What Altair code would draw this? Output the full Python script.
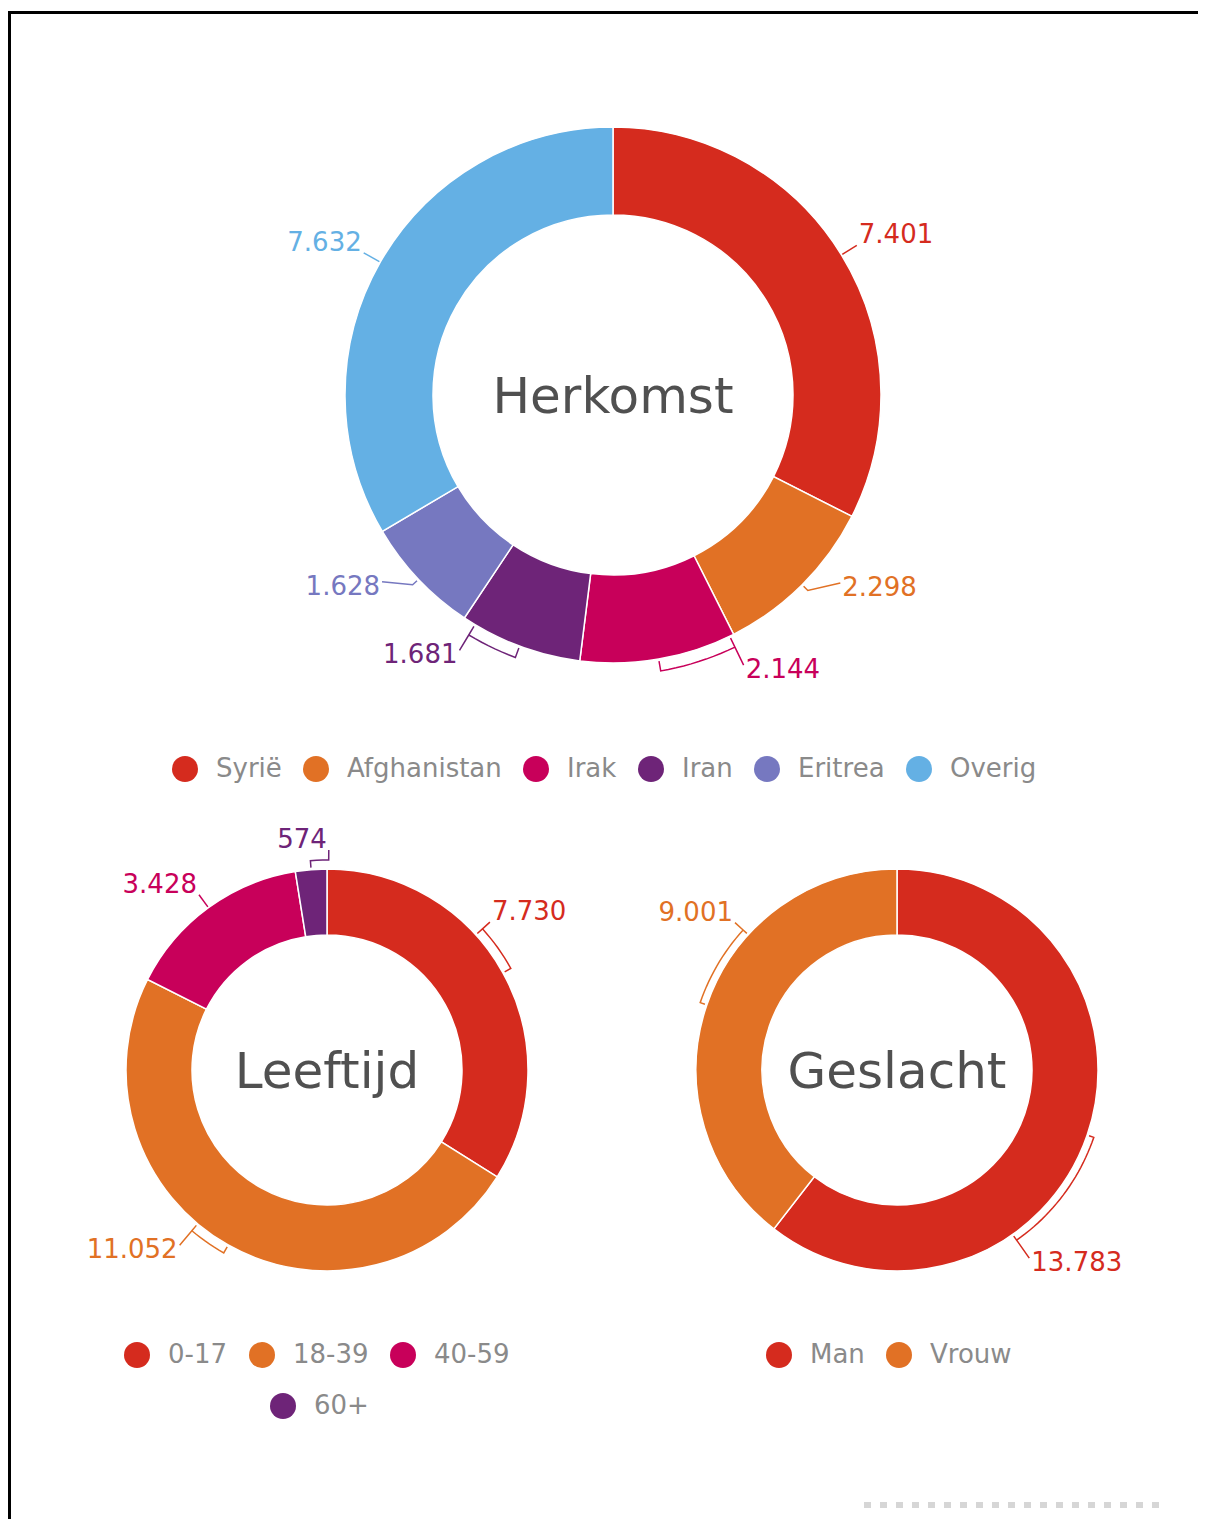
import math
import altair as alt
import pandas as pd

# ---------------- data ----------------
herkomst_cats = ["Syrië", "Afghanistan", "Irak", "Iran", "Eritrea", "Overig"]
herkomst_vals = [7401, 2298, 2144, 1681, 1628, 7632]
herkomst_labels = ["7.401", "2.298", "2.144", "1.681", "1.628", "7.632"]

leeftijd_cats = ["0-17", "18-39", "40-59", "60+"]
leeftijd_vals = [7730, 11052, 3428, 574]
leeftijd_labels = ["7.730", "11.052", "3.428", "574"]

geslacht_cats = ["Man", "Vrouw"]
geslacht_vals = [13783, 9001]
geslacht_labels = ["13.783", "9.001"]

RED = "#d52b1e"
ORANGE = "#e17125"
MAGENTA = "#c8005a"
PURPLE = "#6e2478"
LILAC = "#7678c0"
BLUE = "#64b0e4"

herkomst_colors = [RED, ORANGE, MAGENTA, PURPLE, LILAC, BLUE]
leeftijd_colors = [RED, ORANGE, MAGENTA, PURPLE]
geslacht_colors = [RED, ORANGE]

# ---------------- layout ----------------
W, H = 1190, 1511
FONT = "DejaVu Sans"
LABEL_SIZE = 26
LEGEND_GRAY = "#8a8a8a"
CENTER_GRAY = "#505050"

donuts = [
    dict(name="Herkomst", cats=herkomst_cats, vals=herkomst_vals, labels=herkomst_labels,
         colors=herkomst_colors, cx=605, cy=387, r_out=268, r_in=180, bracket=12,
         shift=[0, -5.5, -16, 10.6, 4.5, 0], gap=[18, 27, 32, 30, 29, 19],
         style=["plain", "tick", "bracket", "bracket", "tick", "plain"]),
    dict(name="Leeftijd", cats=leeftijd_cats, vals=leeftijd_vals, labels=leeftijd_labels,
         colors=leeftijd_colors, cx=319, cy=1062, r_out=201, r_in=135, bracket=9,
         shift=[-13.3, 10.6, 0, 5], gap=[19, 28, 16, 19],
         style=["bracket", "bracket", "plain", "bracket"]),
    dict(name="Geslacht", cats=geslacht_cats, vals=geslacht_vals, labels=geslacht_labels,
         colors=geslacht_colors, cx=889, cy=1062, r_out=201, r_in=135, bracket=7,
         shift=[36, 23.4], gap=[29, 18],
         style=["bracket", "bracket"]),
]


def polar(cx, cy, deg, r):
    a = math.radians(deg)
    return cx + r * math.sin(a), cy - r * math.cos(a)


legend_common = dict(
    orient="none", direction="horizontal", title=None, symbolType="circle",
    symbolSize=676, symbolStrokeWidth=0, labelFontSize=26, labelFont=FONT,
    labelColor=LEGEND_GRAY, labelOffset=18, columnPadding=21, padding=0,
    labelLimit=400, labelBaseline="middle",
)

layers = []

# border (screenshot frame)
frame = pd.DataFrame({"k": [0]})
layers.append(alt.Chart(frame).mark_rule(color="black", strokeWidth=3).encode(
    x=alt.value(1.5), y=alt.value(3), y2=alt.value(H)))
layers.append(alt.Chart(frame).mark_rule(color="black", strokeWidth=3).encode(
    x=alt.value(0), x2=alt.value(W), y=alt.value(4.5)))

# hidden layer providing the separate centered "60+" legend row
sixty = pd.DataFrame({"cat": ["60+"]})
layers.append(alt.Chart(sixty).mark_point(filled=True, opacity=0).encode(
    x=alt.value(0), y=alt.value(0),
    fill=alt.Fill("cat:N", scale=alt.Scale(domain=["60+"], range=[PURPLE]),
                  legend=alt.Legend(legendX=262, legendY=1385, symbolOpacity=1, **legend_common)),
))

legend_pos = {
    "Herkomst": dict(legendX=164, legendY=748),
    "Leeftijd": dict(legendX=116, legendY=1334, values=["0-17", "18-39", "40-59"]),
    "Geslacht": dict(legendX=758, legendY=1334),
}

line_rows = []
text_rows = []

for d in donuts:
    n = len(d["cats"])
    df = pd.DataFrame({"cat": d["cats"], "value": d["vals"], "idx": list(range(n))})
    layers.append(
        alt.Chart(df).mark_arc(outerRadius=d["r_out"], innerRadius=d["r_in"],
                               stroke="white", strokeWidth=1.5).encode(
            theta=alt.Theta("value:Q", stack=True),
            order=alt.Order("idx:Q"),
            color=alt.Color("cat:N", scale=alt.Scale(domain=d["cats"], range=d["colors"]),
                            sort=d["cats"],
                            legend=alt.Legend(**legend_pos[d["name"]], **legend_common)),
            x=alt.value(d["cx"]), y=alt.value(d["cy"]),
        )
    )
    # center title
    layers.append(
        alt.Chart(pd.DataFrame({"t": [d["name"]]})).mark_text(
            font=FONT, fontSize=50, color=CENTER_GRAY, baseline="middle", align="center", dy=3
        ).encode(text="t:N", x=alt.value(d["cx"]), y=alt.value(d["cy"]))
    )

    total = sum(d["vals"])
    start = 0
    for i, v in enumerate(d["vals"]):
        mid = (start + v / 2) / total * 360
        start += v
        sh = d["shift"][i]
        lab = mid + sh
        ro = d["r_out"]
        b = d["bracket"]
        style = d["style"][i]
        if style == "bracket":
            pts = [polar(d["cx"], d["cy"], mid, ro + 2), polar(d["cx"], d["cy"], mid, ro + b)]
            steps = max(2, int(abs(sh) / 1.5))
            for k in range(1, steps + 1):
                pts.append(polar(d["cx"], d["cy"], mid + sh * k / steps, ro + b))
            if abs(sh) > 8:
                pts.append(polar(d["cx"], d["cy"], lab, ro + 2))
                pts.append(polar(d["cx"], d["cy"], lab, ro + b))
        elif style == "tick":
            pts = [polar(d["cx"], d["cy"], mid, ro + 2), polar(d["cx"], d["cy"], mid, ro + 8)]
        else:
            pts = [polar(d["cx"], d["cy"], mid, ro + 1)]
        ax, ay = polar(d["cx"], d["cy"], lab, ro + d["gap"][i])
        pts.append((ax, ay))
        lid = d["name"] + str(i)
        for k, (px, py) in enumerate(pts):
            line_rows.append(dict(lid=lid, k=k, px=px, py=py, col=d["colors"][i]))
        rad = math.radians(lab)
        right_side = math.sin(rad) > 0.1
        upper = math.cos(rad) > 0
        tx = ax + 2 if right_side else ax - 2
        ty = ay - 10 if upper else ay + 5
        text_rows.append(dict(lab=d["labels"][i], tx=tx, ty=ty, col=d["colors"][i],
                              side="left" if right_side else "right"))

lines = pd.DataFrame(line_rows)
layers.append(
    alt.Chart(lines).mark_line(strokeWidth=1.5, strokeJoin="miter").encode(
        x=alt.X("px:Q", scale=None, axis=None),
        y=alt.Y("py:Q", scale=None, axis=None),
        detail="lid:N",
        order="k:Q",
        color=alt.Color("col:N", scale=None),
    )
)

texts = pd.DataFrame(text_rows)
for side in ["left", "right"]:
    sub = texts[texts["side"] == side]
    layers.append(
        alt.Chart(sub).mark_text(font=FONT, fontSize=LABEL_SIZE, align=side, baseline="middle").encode(
            x=alt.X("tx:Q", scale=None, axis=None),
            y=alt.Y("ty:Q", scale=None, axis=None),
            text="lab:N",
            color=alt.Color("col:N", scale=None),
        )
    )

# faint footer marker
layers.append(alt.Chart(frame).mark_rule(color="#d6d6d6", strokeWidth=6, strokeDash=[7, 9]).encode(
    x=alt.value(856), x2=alt.value(1160), y=alt.value(1497)))

chart = (
    alt.layer(*layers)
    .resolve_scale(theta="independent", color="independent")
    .properties(width=W, height=H, padding=0, autosize=alt.AutoSizeParams(type="none"),
                background="white")
    .configure_view(stroke=None)
)

chart.save("out.html", embed_options={"renderer": "svg", "actions": False})
